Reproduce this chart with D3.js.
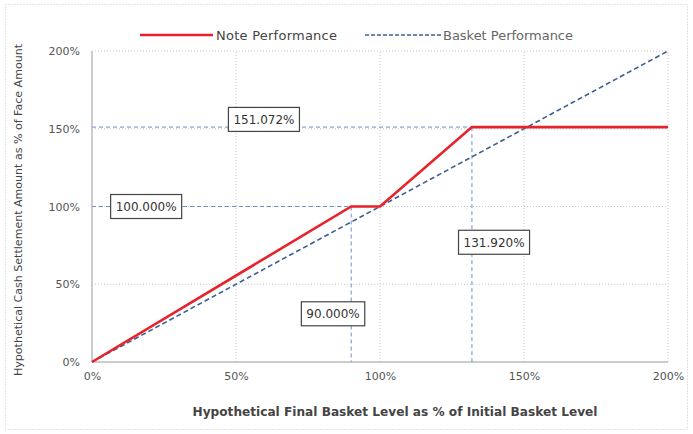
<!DOCTYPE html>
<html><head><meta charset="utf-8">
<script src="https://cdn.jsdelivr.net/npm/d3@7"></script>
<style>body{margin:0;background:#fff}svg{display:block}text{font-family:"DejaVu Sans",Verdana,sans-serif}</style>
</head><body><svg id="c" width="693" height="434"></svg>
<script>
const xTicks = [0, 50, 100, 150, 200];
const yTicks = [0, 50, 100, 150, 200];
const noteX = [0, 90, 100, 131.92, 200];
const noteY = [0, 100, 100, 151.072, 151.072];
const basketX = [0, 200];
const basketY = [0, 200];
const refLabels = ["151.072%", "100.000%", "131.920%", "90.000%"];
const seriesNames = ["Note Performance", "Basket Performance"];

const svg = d3.select("#c");
const W = 693, H = 434;
const m = {l: 92, r: 25, t: 51, b: 72};
const x = d3.scaleLinear().domain([0, 200]).range([m.l, W - m.r]);
const y = d3.scaleLinear().domain([0, 200]).range([H - m.b, m.t]);

// outer border
svg.append("rect").attr("x", 5.5).attr("y", 4.5).attr("width", W - 11).attr("height", H - 9)
  .attr("fill", "none").attr("stroke", "#c8c8c8").attr("stroke-dasharray", "1,2");

// grid
const g = svg.append("g");
xTicks.forEach(t => g.append("line").attr("x1", x(t)).attr("x2", x(t)).attr("y1", y(0)).attr("y2", y(200))
  .attr("stroke", t === 0 ? "#999" : "#c8c8c8").attr("stroke-dasharray", t === 0 ? null : "1,2"));
yTicks.forEach(t => g.append("line").attr("x1", x(0)).attr("x2", x(200)).attr("y1", y(t)).attr("y2", y(t))
  .attr("stroke", t === 0 ? "#999" : "#c8c8c8").attr("stroke-dasharray", t === 0 ? null : "1,2"));

// axes
const xa = svg.append("g").attr("transform", `translate(0,${y(0)})`)
  .call(d3.axisBottom(x).tickValues(xTicks).tickFormat(d => d + "%").tickSize(0).tickPadding(10));
const ya = svg.append("g").attr("transform", `translate(${x(0)},0)`)
  .call(d3.axisLeft(y).tickValues(yTicks).tickFormat(d => d + "%").tickSize(0).tickPadding(12));
[xa, ya].forEach(a => { a.select(".domain").remove(); a.selectAll("text").attr("fill", "#555").attr("font-size", 11).attr("font-family", "DejaVu Sans, sans-serif"); });

// reference lines
const ref = svg.append("g").attr("stroke", "#6f8fc4").attr("stroke-width", 1).attr("stroke-dasharray", "4,3").attr("fill", "none");
ref.append("line").attr("x1", x(0)).attr("x2", x(noteX[3])).attr("y1", y(noteY[3])).attr("y2", y(noteY[3]));
ref.append("line").attr("x1", x(0)).attr("x2", x(noteX[2])).attr("y1", y(noteY[1])).attr("y2", y(noteY[1]));
ref.append("line").attr("x1", x(noteX[1])).attr("x2", x(noteX[1])).attr("y1", y(noteY[1])).attr("y2", y(0));
ref.append("line").attr("x1", x(noteX[3])).attr("x2", x(noteX[3])).attr("y1", y(noteY[3])).attr("y2", y(0));

// lines
const line = d3.line().x(d => x(d[0])).y(d => y(d[1]));
svg.append("path").datum(d3.zip(basketX, basketY)).attr("d", line).attr("fill", "none")
  .attr("stroke", "#3d5f91").attr("stroke-width", 1.6).attr("stroke-dasharray", "5,3");
svg.append("path").datum(d3.zip(noteX, noteY)).attr("d", line).attr("fill", "none")
  .attr("stroke", "#e8222a").attr("stroke-width", 2.6);

// labels
const labelPos = [[59.7, 156], [18.8, 100], [139.6, 77], [83.7, 31]]; // data coords of box centers
labelPos.forEach((p, i) => {
  const cx = x(p[0]), cy = y(p[1]);
  const lg = svg.append("g");
  const r = lg.append("rect");
  const t = lg.append("text").attr("x", cx).attr("y", cy + 4.5).attr("text-anchor", "middle")
    .attr("font-size", 12).attr("fill", "#333").text(refLabels[i]);
  const bb = t.node().getBBox();
  r.attr("x", bb.x - 5).attr("y", cy - 12).attr("width", bb.width + 10).attr("height", 24)
    .attr("fill", "#fff").attr("stroke", "#444").attr("stroke-width", 1.2);
});

// legend
const lg = svg.append("g");
lg.append("line").attr("x1", 140).attr("x2", 213).attr("y1", 35).attr("y2", 35).attr("stroke", "#e8222a").attr("stroke-width", 2.6);
lg.append("text").attr("x", 216).attr("y", 39.5).attr("font-size", 13).attr("textLength", 121).attr("fill", "#444").text(seriesNames[0]);
lg.append("line").attr("x1", 365).attr("x2", 442).attr("y1", 35).attr("y2", 35).attr("stroke", "#3d5f91").attr("stroke-width", 1.6).attr("stroke-dasharray", "4,2");
lg.append("text").attr("x", 443).attr("y", 39.5).attr("font-size", 13).attr("textLength", 130).attr("fill", "#666").text(seriesNames[1]);

// axis titles
svg.append("text").attr("x", 395).attr("y", 416).attr("text-anchor", "middle").attr("font-size", 12)
  .attr("textLength", 405).attr("lengthAdjust", "spacingAndGlyphs")
  .attr("font-weight", "bold").attr("fill", "#444").text("Hypothetical Final Basket Level as % of Initial Basket Level");
svg.append("text").attr("transform", "translate(22,210) rotate(-90)").attr("text-anchor", "middle").attr("font-size", 11)
  .attr("textLength", 332).attr("lengthAdjust", "spacingAndGlyphs")
  .attr("fill", "#444").text("Hypothetical Cash Settlement Amount as % of Face Amount");
</script></body></html>
